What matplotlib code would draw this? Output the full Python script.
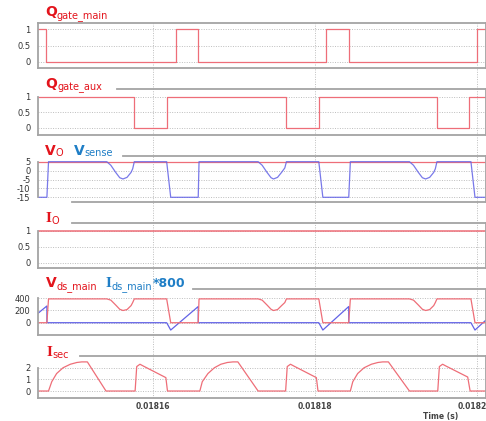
import matplotlib
matplotlib.use("Agg")
import matplotlib.pyplot as plt
from matplotlib.transforms import IdentityTransform
from matplotlib.lines import Line2D

# ---------------- data (time in seconds) ----------------
q_main_t = [0.0181440, 0.0181468, 0.0181628, 0.0181656, 0.0181814, 0.0181842, 0.0182000, 0.0182020]
q_main_v = [1, 0, 1, 0, 1, 0, 1, 1]

q_aux_t = [0.0181440, 0.0181577, 0.0181617, 0.0181764, 0.0181805, 0.0181951, 0.0181991, 0.0182020]
q_aux_v = [1, 0, 1, 0, 1, 0, 1, 1]

vo_t = [0.0181440, 0.0182020]
vo_v = [5, 5]

vsense_t = [0.0181458, 0.0181469, 0.0181471, 0.0181543, 0.0181548, 0.0181554, 0.0181559,
            0.0181563, 0.0181568, 0.0181573, 0.0181575, 0.0181577, 0.0181617, 0.0181622,
            0.0181656, 0.0181657, 0.0181730, 0.0181735, 0.0181741, 0.0181746, 0.0181749,
            0.0181754, 0.0181759, 0.0181763, 0.0181765, 0.0181805, 0.0181810, 0.0181842,
            0.0181844, 0.0181917, 0.0181922, 0.0181928, 0.0181933, 0.0181937, 0.0181942,
            0.0181947, 0.0181949, 0.0181951, 0.0181993, 0.0181998, 0.0182011]
vsense_v = [-15, -15, 5, 5, 3, -1, -4, -4.7, -3.8, -1, 1, 5, 5, -15,
            -15, 5, 5, 3, -1, -4, -4.7, -3.8, -1, 1.5, 5, 5, -15, -15,
            5, 5, 3, -1, -4, -4.7, -3.8, -1, 1, 5, 5, -15, -15]

io_t = [0.0181440, 0.0182020]
io_v = [1, 1]

vds_t = [0.0181458, 0.0181469, 0.0181471, 0.0181543, 0.0181548, 0.0181554, 0.0181559,
         0.0181563, 0.0181568, 0.0181573, 0.0181575, 0.0181577, 0.0181617, 0.0181622,
         0.0181656, 0.0181657, 0.0181730, 0.0181735, 0.0181741, 0.0181746, 0.0181749,
         0.0181754, 0.0181759, 0.0181763, 0.0181765, 0.0181805, 0.0181810, 0.0181842,
         0.0181844, 0.0181917, 0.0181922, 0.0181928, 0.0181933, 0.0181937, 0.0181942,
         0.0181947, 0.0181949, 0.0181951, 0.0181993, 0.0181998, 0.0182011]
vds_v = [0, 0, 390, 390, 370, 290, 220, 200, 215, 280, 330, 390, 390, 0,
         0, 390, 390, 370, 290, 220, 200, 215, 280, 330, 390, 390, 0, 0,
         390, 390, 370, 290, 220, 200, 215, 280, 330, 390, 390, 0, 0]

ids_t = [0.0181458, 0.0181469, 0.0181469, 0.0181617, 0.0181622, 0.0181656, 0.0181656,
         0.0181805, 0.0181810, 0.0181842, 0.0181842, 0.0181993, 0.0181998, 0.0182011]
ids_v = [154, 274, 0, 0, -120, 265, 0, 0, -120, 265, 0, 0, -120, 37]

isec_t = [0.0181458, 0.0181471, 0.0181475, 0.0181481, 0.0181489, 0.0181498, 0.0181506,
          0.0181512, 0.0181519, 0.0181542, 0.0181578, 0.0181580, 0.0181584, 0.0181588,
          0.0181616, 0.0181618, 0.0181658, 0.0181661, 0.0181668, 0.0181676, 0.0181684,
          0.0181692, 0.0181699, 0.0181705, 0.0181730, 0.0181764, 0.0181766, 0.0181770,
          0.0181774, 0.0181802, 0.0181804, 0.0181844, 0.0181847, 0.0181853, 0.0181861,
          0.0181870, 0.0181878, 0.0181884, 0.0181891, 0.0181917, 0.0181952, 0.0181954,
          0.0181958, 0.0181962, 0.0181989, 0.0181992, 0.0182011]
isec_v = [0, 0, 0.8, 1.5, 2.0, 2.3, 2.45, 2.5, 2.5, 0, 0, 2.1, 2.3, 2.15,
          1.15, 0, 0, 0.8, 1.5, 2.0, 2.3, 2.45, 2.5, 2.5, 0, 0, 2.1, 2.3,
          2.15, 1.15, 0, 0, 0.8, 1.5, 2.0, 2.3, 2.45, 2.5, 2.5, 0, 0, 2.1,
          2.3, 2.15, 1.2, 0, 0]

x_ticks = [0.01816, 0.01818, 0.0182]
x_tick_labels = ["0.01816", "0.01818", "0.0182"]
gate_ticks = [0, 0.5, 1]
gate_tick_labels = ["0", "0.5", "1"]
v_ticks = [-15, -10, -5, 0, 5]
v_tick_labels = ["-15", "-10", "-5", "0", "5"]
vds_ticks = [0, 200, 400]
vds_tick_labels = ["0", "200", "400"]
isec_ticks = [0, 1, 2]
isec_tick_labels = ["0", "1", "2"]
x_label = "Time (s)"

# ---------------- style ----------------
RED = "#ee6e78"
BLUE = "#6262e6"
TRED = "#e3141c"
TBLUE = "#1f7ec6"
FRAME = "#a4a4a4"
GRID = "#bdbdbd"
W, H = 486, 421

fig = plt.figure(figsize=(W / 100, H / 100), dpi=100)
fig.patch.set_facecolor("white")

X0, X1 = 38, 485.5
XLIM = (0.0181458, 0.0182011)


def fx(px):
    return px / W


def fy(px):
    return 1 - px / H


# background axes for vertical grid lines running through all panels
bg = fig.add_axes([fx(X0), fy(398), fx(X1) - fx(X0), (398 - 23) / H], zorder=0)
bg.set_xlim(*XLIM)
bg.set_ylim(0, 1)
bg.axis("off")
for xt in x_ticks:
    bg.axvline(xt, color=GRID, lw=0.7, ls=(0, (1, 1.5)))

# panel specs: top, bottom, ylim, ticks, labels, top line start, left spine top, left spine bottom, bottom line start
panels = [
    (23, 68, (-0.182, 1.182), gate_ticks, gate_tick_labels, 38, 23, 68, 38),
    (89.3, 135, (-0.226, 1.248), gate_ticks, gate_tick_labels, 117, 97, 135, 38),
    (155.7, 201.7, (-17.47, 8.37), v_ticks, v_tick_labels, 123, 161.7, 197.3, 72),
    (222.7, 267.7, (-0.156, 1.25), gate_ticks, gate_tick_labels, 72, 230.7, 267.7, 38),
    (289, 334.5, (-193, 552), vds_ticks, vds_tick_labels, 193, 298.3, 334.5, 38),
    (355.5, 398, (-0.6, 3.05), isec_ticks, isec_tick_labels, 80, 367.7, 398, 38),
]

axes = []
for (top, bot, yl, ticks, labels, tstart, ltop, lbot, bstart) in panels:
    ax = fig.add_axes([fx(X0), fy(bot), fx(X1) - fx(X0), (bot - top) / H], zorder=1)
    ax.set_facecolor("none")
    ax.set_xlim(*XLIM)
    ax.set_ylim(*yl)
    ax.set_yticks(ticks)
    ax.set_yticklabels(labels)
    ax.set_xticks(x_ticks)
    ax.set_xticklabels([])
    ax.tick_params(axis="both", length=0, labelsize=6, labelcolor="#333333", pad=5.5)
    ax.yaxis.grid(True, color=GRID, lw=0.7, ls=(0, (1, 1.5)))
    ax.xaxis.grid(False)
    for s in ax.spines.values():
        s.set_visible(False)
    hgt = bot - top
    wid = X1 - X0
    kw = dict(transform=ax.transAxes, color=FRAME, lw=1.3, clip_on=False, zorder=5)
    ax.add_line(Line2D([(tstart - X0) / wid, 1], [1, 1], **kw))
    ax.add_line(Line2D([(bstart - X0) / wid, 1], [0, 0], **kw))
    ax.add_line(Line2D([0, 0], [(bot - lbot) / hgt, (bot - ltop) / hgt], **kw))
    ax.add_line(Line2D([1, 1], [0, 1], **kw))
    axes.append(ax)

a1, a2, a3, a4, a5, a6 = axes
a1.plot(q_main_t, q_main_v, drawstyle="steps-post", color=RED, lw=0.9)
a2.plot(q_aux_t, q_aux_v, drawstyle="steps-post", color=RED, lw=0.9)
a3.plot(vo_t, vo_v, color=RED, lw=0.9)
a3.plot(vsense_t, vsense_v, color=BLUE, lw=0.9, alpha=0.85)
a4.plot(io_t, io_v, color=RED, lw=1.3, alpha=0.85)
a5.plot(ids_t, ids_v, color=BLUE, lw=0.9)
a5.plot(vds_t, vds_v, color=RED, lw=0.9)
a6.plot(isec_t, isec_v, color=RED, lw=0.9)

# x tick labels drawn at the tick positions (last one nudged to stay inside the canvas)
nudges = [0, 0, -4]
for xt, lab, dx in zip(x_ticks, x_tick_labels, nudges):
    a6.annotate(lab, xy=(xt, 0), xycoords=a6.get_xaxis_transform(),
                xytext=(dx, -8.7), textcoords="offset pixels",
                ha="center", va="center", fontsize=5.5, fontweight="bold",
                color="#444444", annotation_clip=False)

fig.text(fx(441), fy(417), x_label, ha="center", va="center", fontsize=5.5,
         fontweight="bold", color="#444444")

# ---------------- titles (rich text with subscripts) ----------------
renderer = fig.canvas.get_renderer()


def rich(x_px, base_px, parts):
    x = x_px
    for s, size, color, dy, fam, wt in parts:
        t = fig.text(x, H - (base_px + dy), s, transform=IdentityTransform(),
                     fontsize=size, color=color, family=fam, weight=wt,
                     ha="left", va="baseline", zorder=10)
        bb = t.get_window_extent(renderer)
        x = bb.x1
    return x


SANS = "DejaVu Sans"
SERIF = "Liberation Serif"
BIG = 10
SUB = 7

rich(45, 16.5, [("Q", BIG, TRED, 0, SANS, "bold"), ("gate_main", SUB, TRED, 1.8, SANS, "normal")])
rich(45.5, 88.3, [("Q", BIG, TRED, 0, SANS, "bold"), ("gate_aux", SUB, TRED, 1.8, SANS, "normal")])
rich(45, 154.7, [("V", BIG, TRED, 0, SANS, "bold"), ("O", SUB, TRED, 1.8, SANS, "normal")])
rich(74, 154.7, [("V", BIG, TBLUE, 0, SANS, "bold"), ("sense", SUB, TBLUE, 1.8, SANS, "normal")])
rich(46, 222.3, [("I", 11, TRED, 0, SERIF, "bold"), ("O", SUB, TRED, 1.8, SANS, "normal")])
rich(46, 287.3, [("V", BIG, TRED, 0, SANS, "bold"), ("ds_main", SUB, TRED, 1.8, SANS, "normal")])
rich(106, 287.3, [("I", 11, TBLUE, 0, SERIF, "bold"), ("ds_main", SUB, TBLUE, 1.8, SANS, "normal"),
                  ("*800", 9, TBLUE, 0, SANS, "bold")])
rich(46.5, 356.5, [("I", 11, TRED, 0, SERIF, "bold"), ("sec", SUB, TRED, 1.8, SANS, "normal")])

fig.savefig("out.png", dpi=100)
